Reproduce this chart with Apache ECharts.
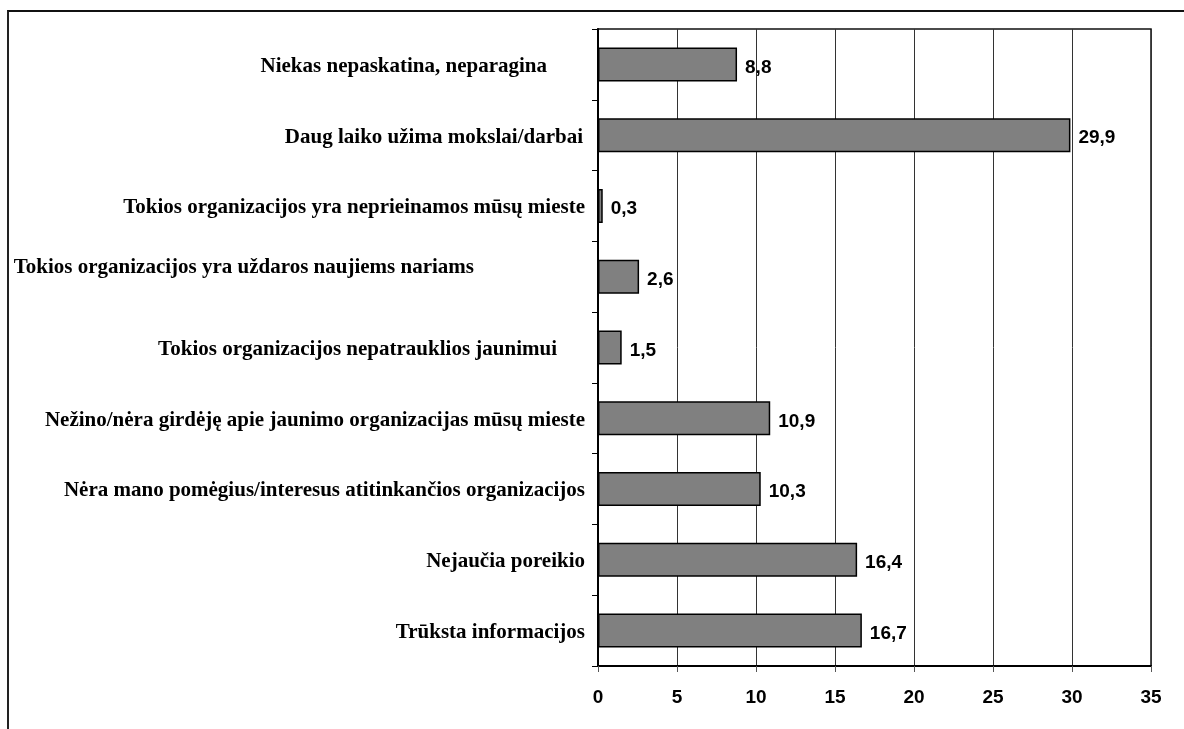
<!DOCTYPE html>
<html>
<head>
<meta charset="utf-8">
<script src="https://cdn.jsdelivr.net/npm/echarts@6/dist/echarts.min.js"></script>
<style>
  html, body { margin: 0; padding: 0; background: #fff; }
  #chart { width: 1184px; height: 729px; }
  #frame { position: absolute; left: 7px; top: 10px; width: 1175px; height: 730px;
           border-top: 2px solid #111; border-left: 2px solid #222; pointer-events: none; }
</style>
</head>
<body>
<div id="chart"></div>
<div id="frame"></div>
<script>
// Categories listed top to bottom as in the picture
const categories = [
  'Niekas nepaskatina, neparagina',
  'Daug laiko užima mokslai/darbai',
  'Tokios organizacijos yra neprieinamos mūsų mieste',
  'Tokios organizacijos yra uždaros naujiems nariams',
  'Tokios organizacijos nepatrauklios jaunimui',
  'Nežino/nėra girdėję apie jaunimo organizacijas mūsų mieste',
  'Nėra mano pomėgius/interesus atitinkančios organizacijos',
  'Nejaučia poreikio',
  'Trūksta informacijos'
];
const values = [8.8, 29.9, 0.3, 2.6, 1.5, 10.9, 10.3, 16.4, 16.7];
const xTicks = [0, 5, 10, 15, 20, 25, 30, 35];

const chart = echarts.init(document.getElementById('chart'));

const catFont = { fontFamily: '"Liberation Serif", "Times New Roman", serif', fontWeight: 'bold', fontSize: 21, color: '#000' };
const labelPads = [[4, 38, 0, 0], [4, 2, 0, 0], [4, 0, 0, 0], [0, 111, 18, 0], [4, 28, 0, 0], [4, 0, 0, 0], [4, 0, 0, 0], [4, 0, 0, 0], [4, 0, 0, 0]];
const rich = {};
categories.forEach((c, i) => { rich['c' + i] = Object.assign({ padding: labelPads[i] }, catFont); });

chart.setOption({
  animation: false,
  backgroundColor: '#fff',
  grid: { left: 598, top: 29, right: 33, bottom: 63, show: true, borderColor: '#111', borderWidth: 1.5, containLabel: false },
  xAxis: {
    type: 'value',
    min: xTicks[0], max: xTicks[xTicks.length - 1], interval: 5,
    axisLine: { show: true, lineStyle: { color: '#000', width: 2 } },
    axisTick: { show: true, length: 6, lineStyle: { color: '#555', width: 1 } },
    splitLine: { show: true, lineStyle: { color: '#333', width: 1 } },
    axisLabel: { margin: 22, fontFamily: '"Liberation Sans", Arial, sans-serif', fontWeight: 'bold', fontSize: 19, color: '#000' }
  },
  yAxis: {
    type: 'category',
    inverse: true,
    data: categories,
    axisLine: { show: true, lineStyle: { color: '#000', width: 2 } },
    axisTick: { show: true, length: 6, lineStyle: { color: '#000', width: 1 } },
    axisLabel: {
      margin: 13,
      formatter: (v, i) => '{c' + i + '|' + v + '}',
      rich: rich
    }
  },
  series: [{
    type: 'bar',
    data: values,
    barWidth: '48%',
    itemStyle: { color: '#808080', borderColor: '#000', borderWidth: 1.5 },
    label: {
      show: true, position: 'right', distance: 8,
      offset: [0, 3],
      formatter: p => p.value.toFixed(1).replace('.', ','),
      fontFamily: '"Liberation Sans", Arial, sans-serif', fontWeight: 'bold', fontSize: 19, color: '#000'
    }
  }]
});
</script>
</body>
</html>
